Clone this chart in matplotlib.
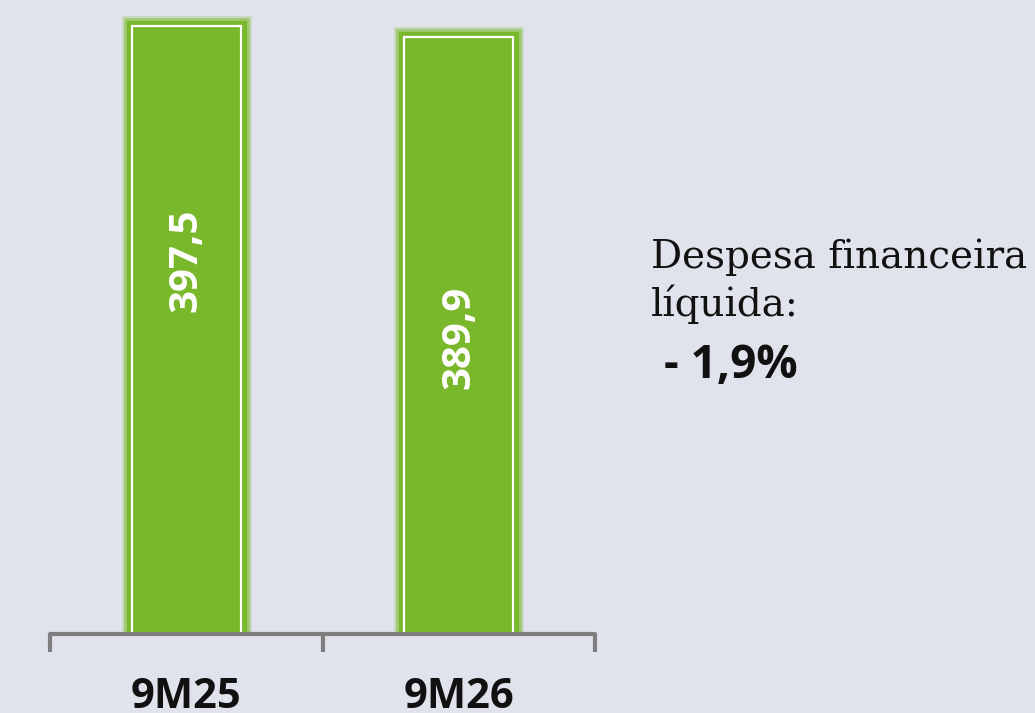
import matplotlib
matplotlib.use('Agg')
import matplotlib.pyplot as plt
import matplotlib.patheffects as pe

# data
periods = ['9M25', '9M26']
values = [397.5, 389.9]
value_labels = ['397,5', '389,9']
label_pos = [244, 194]   # where the rotated value label sits inside each bar

bg = '#e1e3ec'
green = '#79b82a'
gray = '#7f7f7f'

fig = plt.figure(figsize=(10.35, 7.13), dpi=100, facecolor=bg)
ax = fig.add_axes([0.0483, 0.1108, 0.5266, 0.880])
ax.set_facecolor(bg)

x = range(len(periods))
bars = ax.bar(x, values, width=0.40, color=green, edgecolor='white', linewidth=1.6)
for b in bars:
    b.set_path_effects([
        pe.Stroke(linewidth=15, foreground=green, alpha=0.25),
        pe.Stroke(linewidth=12, foreground=green, alpha=0.5),
        pe.Stroke(linewidth=8, foreground=green),
        pe.Normal(),
    ])

for i, (lab, y) in enumerate(zip(value_labels, label_pos)):
    ax.text(i, y, lab, rotation=90, ha='center', va='center', color='white',
            fontsize=29, fontweight='bold', family='Open Sans')

ax.set_xlim(-0.5, 1.5)
ax.set_ylim(0, 410)

for s in ['top', 'right', 'left']:
    ax.spines[s].set_visible(False)
ax.spines['bottom'].set_color(gray)
ax.spines['bottom'].set_linewidth(3)
ax.spines['bottom'].set_capstyle('round')
ax.set_yticks([])

ax.set_xticks(list(x))
ax.set_xticklabels(periods, fontsize=30, fontweight='bold', family='Open Sans', color='#111111')
ax.tick_params(axis='x', which='major', length=0, pad=31)
ax.set_xticks([-0.5, 0.5, 1.5], minor=True)
ax.tick_params(axis='x', which='minor', length=13, width=3, color=gray, direction='out')

fig.text(0.629, 0.624, 'Despesa financeira', fontsize=28, family='DejaVu Serif',
         color='#111111', va='baseline')
fig.text(0.629, 0.557, 'líquida:', fontsize=28, family='DejaVu Serif',
         color='#111111', va='baseline')
fig.text(0.642, 0.470, '- 1,9%', fontsize=33, fontweight='bold', family='Open Sans',
         color='#111111', va='baseline')

fig.savefig('out.png', dpi=100, facecolor=bg)
